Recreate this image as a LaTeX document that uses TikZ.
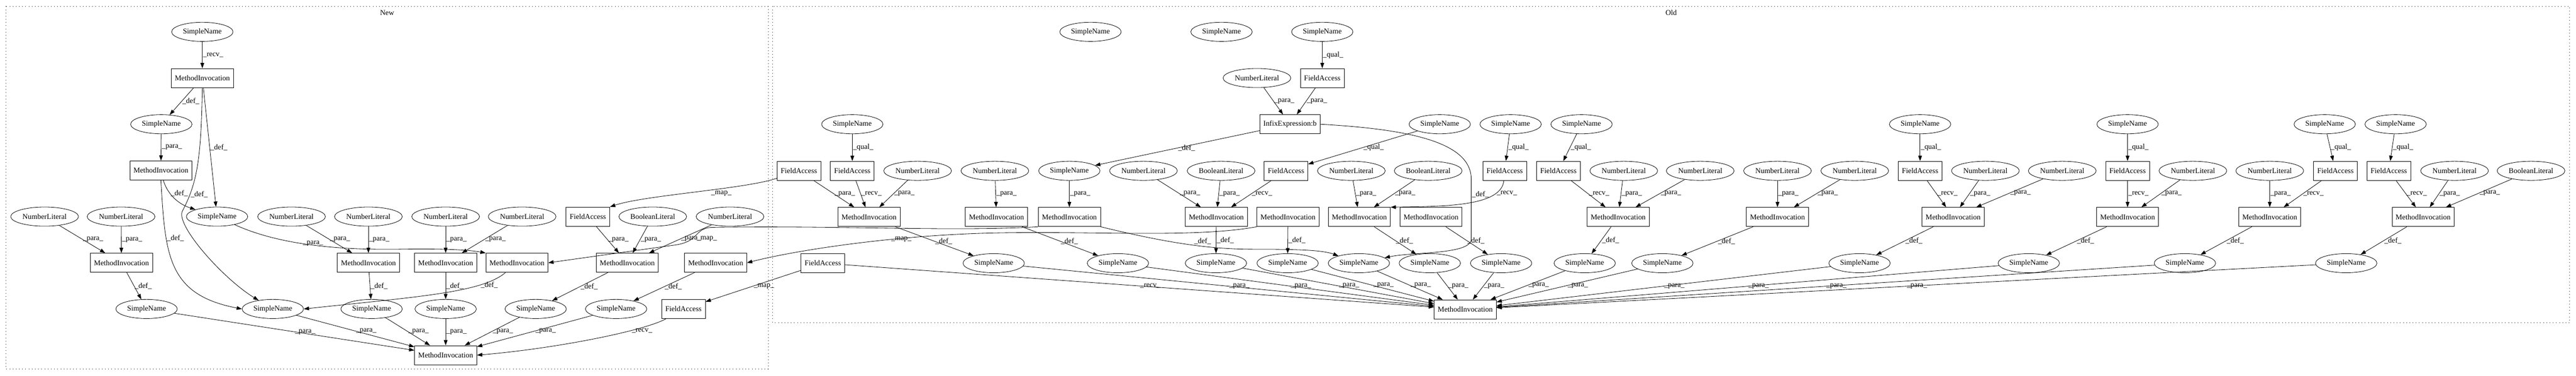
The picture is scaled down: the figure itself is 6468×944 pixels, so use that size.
\documentclass[tikz,border=0pt]{standalone}
\usepackage{fontspec}
\setmainfont{Liberation Serif}
\usetikzlibrary{arrows.meta,shapes.geometric,positioning}

\newcommand{\elab}[1]{\_#1\_}

\tikzset{
  mibox/.style={draw, rectangle, line width=0.8pt, minimum width=117pt, minimum height=36pt, inner sep=0pt},
  fabox/.style={mibox, minimum width=82.5pt},
  infbox/.style={mibox, minimum width=113pt},
  snode/.style={draw, ellipse, line width=0.8pt, minimum width=115.5pt, minimum height=36pt, inner sep=0pt},
  litnode/.style={snode, minimum width=127.5pt},
  edge/.style={-{Triangle[length=10pt,width=7pt]}, line width=0.8pt},
  lbl/.style={midway, right, inner sep=1pt},
  cluster/.style={line width=0.8pt, dash pattern=on 0.8pt off 5.2pt},
}

\begin{document}
\begin{tikzpicture}[x=0.75pt, y=-0.75pt, every node/.append style={font=\fontsize{14}{16}\selectfont}]
\useasboundingbox (0,0) rectangle (6468,944);

%%%%%
%% New
%%%%%
\draw[cluster] (15,16) rectangle (1929,927);
\node (newlab) at (972,32) {New};

\node[snode] (nsn0) at (508,80) {SimpleName};
\node[mibox] (nmi0) at (508,196) {MethodInvocation};
\node[snode] (nsn1) at (405,312) {SimpleName};
\node[mibox] (nmi1) at (404,428) {MethodInvocation};

\node[litnode] (nnl0) at (112,544) {NumberLiteral};
\node[litnode] (nnl1) at (304,544) {NumberLiteral};
\node[snode] (nsn2) at (545,544) {SimpleName};
\node[litnode] (nnl2) at (732,544) {NumberLiteral};
\node[litnode] (nnl3) at (925,544) {NumberLiteral};
\node[litnode] (nnl4) at (1119,544) {NumberLiteral};
\node[litnode] (nnl5) at (1311,544) {NumberLiteral};
\node[fabox] (nfa0) at (1476,544) {FieldAccess};
\node[litnode] (nbl0) at (1639,544) {BooleanLiteral};
\node[litnode] (nnl6) at (1833,544) {NumberLiteral};

\node[mibox] (nmi2) at (305,660) {MethodInvocation};
\node[mibox] (nmi3) at (925,660) {MethodInvocation};
\node[mibox] (nmi4) at (1119,660) {MethodInvocation};
\node[mibox] (nmi5) at (1298,660) {MethodInvocation};
\node[mibox] (nmi6) at (1575,660) {MethodInvocation};
\node[mibox] (nmi7) at (1797,660) {MethodInvocation};

\node[snode] (nsn3) at (368,776) {SimpleName};
\node[snode] (nsn4) at (685,776) {SimpleName};
\node[snode] (nsn5) at (933,776) {SimpleName};
\node[snode] (nsn6) at (1119,776) {SimpleName};
\node[snode] (nsn7) at (1345,776) {SimpleName};
\node[snode] (nsn8) at (1547,776) {SimpleName};
\node[fabox] (nfa1) at (1716,776) {FieldAccess};

\node[mibox] (nmi8) at (1119,892) {MethodInvocation};

\draw[edge] (nsn0) -- (nmi0) node[lbl] {\elab{recv}};
\draw[edge] (nmi0) -- (nsn1) node[lbl] {\elab{def}};
\draw[edge] (nmi0) -- (nsn2) node[lbl] {\elab{def}};
\draw[edge] (nmi0.south) .. controls (505,400) and (495,460) .. node[lbl, pos=0.8] {\elab{def}} (458,530) .. controls (440,565) and (560,700) .. (nsn4);
\draw[edge] (nsn1) -- (nmi1) node[lbl] {\elab{para}};
\draw[edge] ([xshift=4.5pt]nmi1.south) .. controls (418,480) and (440,510) .. node[lbl, pos=0.4] {\elab{def}} (nsn2);
\draw[edge] (nmi1.south) .. controls (415,640) and (420,740) .. node[lbl, pos=0.3] {\elab{def}} (nsn4.west);

\draw[edge] (nnl0) -- (nmi2) node[lbl] {\elab{para}};
\draw[edge] (nnl1) -- (nmi2) node[lbl] {\elab{para}};
\draw[edge] (nmi2) -- (nsn3) node[lbl] {\elab{def}};
\draw[edge] (nsn2) .. controls (700,615) and (850,628) .. node[lbl, pos=0.45] {\elab{para}} (1000,626) .. controls (1120,624) and (1180,628) .. (nmi5.north west);
\draw[edge] (nnl2) -- (nmi3) node[lbl] {\elab{para}};
\draw[edge] (nnl3) -- (nmi3) node[lbl] {\elab{para}};
\draw[edge] (nmi3) -- (nsn5) node[lbl] {\elab{def}};
\draw[edge] (nnl4) -- (nmi4) node[lbl] {\elab{para}};
\draw[edge] (nnl5) -- (nmi4) node[lbl] {\elab{para}};
\draw[edge] (nmi4) -- (nsn6) node[lbl] {\elab{def}};
\draw[edge] (nmi5) .. controls (1210,735) and (1050,745) .. node[lbl, pos=0.25] {\elab{def}} (nsn4.east);
\draw[edge] (nfa0) -- (nmi6) node[lbl] {\elab{para}};
\draw[edge] (nbl0) -- (nmi6) node[lbl] {\elab{para}};
\draw[edge] (nnl6) -- (nmi6) node[lbl] {\elab{para}};
\draw[edge] (nmi6) -- (nsn7) node[lbl] {\elab{def}};
\draw[edge] (nmi7) -- (nsn8) node[lbl] {\elab{def}};

\draw[edge] (nsn3) -- (nmi8) node[lbl] {\elab{para}};
\draw[edge] (nsn4) -- (nmi8) node[lbl] {\elab{para}};
\draw[edge] (nsn5) -- (nmi8) node[lbl] {\elab{para}};
\draw[edge] (nsn6) -- (nmi8) node[lbl] {\elab{para}};
\draw[edge] (nsn7) -- (nmi8) node[lbl] {\elab{para}};
\draw[edge] (nsn8) -- (nmi8) node[lbl] {\elab{para}};
\draw[edge] (nfa1) .. controls (1620,830) and (1400,875) .. node[lbl, pos=0.3] {\elab{recv}} (nmi8.east);

%%%%%
%% Old
%%%%%
\draw[cluster] (1940,16) rectangle (6452,810);
\node (oldlab) at (4196,32) {Old};

\node[snode] (osn0) at (2738,80) {SimpleName};
\node[snode] (osn1) at (3067,80) {SimpleName};
\node[snode] (osn2) at (3320,80) {SimpleName};

\node[litnode] (onl0) at (3156,196) {NumberLiteral};
\node[fabox] (ofa0) at (3320,196) {FieldAccess};

\node[snode] (osn3) at (2140,312) {SimpleName};
\node[infbox] (oinf) at (3239,312) {InfixExpression:b};
\node[snode] (osn4) at (3615,312) {SimpleName};
\node[snode] (osn5) at (3793,312) {SimpleName};
\node[snode] (osn6) at (3971,312) {SimpleName};
\node[snode] (osn7) at (4821,312) {SimpleName};
\node[snode] (osn8) at (5342,312) {SimpleName};
\node[snode] (osn9) at (5837,312) {SimpleName};
\node[snode] (osn10) at (6015,312) {SimpleName};

\node[fabox] (ofa1) at (2006,429) {FieldAccess};
\node[fabox] (ofa2) at (2140,429) {FieldAccess};
\node[litnode] (onl1) at (2304,429) {NumberLiteral};
\node[litnode] (onl2) at (2498,429) {NumberLiteral};
\node[snode] (osn11) at (2685,429) {SimpleName};
\node[litnode] (onl3) at (2871,429) {NumberLiteral};
\node[litnode] (obl0) at (3066,429) {BooleanLiteral};
\node[fabox] (ofa3) at (3229,429) {FieldAccess};
\node[litnode] (onl4) at (3393,429) {NumberLiteral};
\node[litnode] (obl1) at (3586,429) {BooleanLiteral};
\node[fabox] (ofa4) at (3778,429) {FieldAccess};
\node[fabox] (ofa5) at (3913,429) {FieldAccess};
\node[litnode] (onl5) at (4077,429) {NumberLiteral};
\node[litnode] (onl6) at (4269,429) {NumberLiteral};
\node[litnode] (onl7) at (4463,429) {NumberLiteral};
\node[litnode] (onl8) at (4657,429) {NumberLiteral};
\node[fabox] (ofa6) at (4821,429) {FieldAccess};
\node[litnode] (onl9) at (4985,429) {NumberLiteral};
\node[litnode] (onl10) at (5178,429) {NumberLiteral};
\node[fabox] (ofa7) at (5342,429) {FieldAccess};
\node[litnode] (onl11) at (5506,429) {NumberLiteral};
\node[litnode] (onl12) at (5699,429) {NumberLiteral};
\node[fabox] (ofa8) at (5864,429) {FieldAccess};
\node[fabox] (ofa9) at (5998,429) {FieldAccess};
\node[litnode] (onl13) at (6163,429) {NumberLiteral};
\node[litnode] (obl2) at (6355,429) {BooleanLiteral};

\node[mibox] (omi0) at (2182,545) {MethodInvocation};
\node[mibox] (omi1) at (2502,545) {MethodInvocation};
\node[mibox] (omi2) at (2685,545) {MethodInvocation};
\node[mibox] (omi3) at (3054,545) {MethodInvocation};
\node[mibox] (omi4) at (3234,545) {MethodInvocation};
\node[mibox] (omi5) at (3413,545) {MethodInvocation};
\node[mibox] (omi6) at (3593,545) {MethodInvocation};
\node[mibox] (omi7) at (4063,545) {MethodInvocation};
\node[mibox] (omi8) at (4463,545) {MethodInvocation};
\node[mibox] (omi9) at (4904,545) {MethodInvocation};
\node[mibox] (omi10) at (5342,545) {MethodInvocation};
\node[mibox] (omi11) at (5699,545) {MethodInvocation};
\node[mibox] (omi12) at (6084,545) {MethodInvocation};

\node[fabox] (ofa10) at (2066,661) {FieldAccess};
\node[snode] (osn12) at (2495,661) {SimpleName};
\node[snode] (osn13) at (2807,661) {SimpleName};
\node[snode] (osn14) at (3053,661) {SimpleName};
\node[snode] (osn15) at (3233,661) {SimpleName};
\node[snode] (osn16) at (3412,661) {SimpleName};
\node[snode] (osn17) at (3590,661) {SimpleName};
\node[snode] (osn18) at (3769,661) {SimpleName};
\node[snode] (osn19) at (3979,661) {SimpleName};
\node[snode] (osn20) at (4174,661) {SimpleName};
\node[snode] (osn21) at (4669,661) {SimpleName};
\node[snode] (osn22) at (5094,661) {SimpleName};
\node[snode] (osn23) at (5486,661) {SimpleName};
\node[snode] (osn24) at (5891,661) {SimpleName};

\node[mibox] (omi13) at (3679,777) {MethodInvocation};

\draw[edge] (osn2) -- (ofa0) node[lbl] {\elab{qual}};
\draw[edge] (onl0) -- (oinf) node[lbl] {\elab{para}};
\draw[edge] (ofa0) -- (oinf) node[lbl] {\elab{para}};
\draw[edge] (oinf) -- (osn11) node[lbl] {\elab{def}};
\draw[edge] (oinf.east) .. controls (3550,325) and (3694,360) .. (3694,450) -- node[lbl, pos=0.25] {\elab{def}} (3694,600) .. controls (3694,640) and (3550,632) .. (osn16);

\draw[edge] (osn3) -- (ofa2) node[lbl] {\elab{qual}};
\draw[edge] (ofa1) -- (omi0) node[lbl] {\elab{para}};
\draw[edge] (ofa2) -- (omi0) node[lbl] {\elab{recv}};
\draw[edge] (onl1) -- (omi0) node[lbl] {\elab{para}};
\draw[edge] (omi0) -- (osn12) node[lbl] {\elab{def}};
\draw[edge] (onl2) -- (omi1) node[lbl] {\elab{para}};
\draw[edge] (omi1) -- (osn13) node[lbl] {\elab{def}};
\draw[edge] (osn11) -- (omi2) node[lbl] {\elab{para}};
\draw[edge] (omi2.south east) .. controls (2950,615) and (3050,626) .. node[lbl, pos=0.52, above right] {\elab{def}} (3150,626) .. controls (3260,626) and (3320,628) .. (osn16);

\draw[edge] (osn4) -- (ofa3) node[lbl] {\elab{qual}};
\draw[edge] (onl3) -- (omi3) node[lbl] {\elab{para}};
\draw[edge] (obl0) -- (omi3) node[lbl] {\elab{para}};
\draw[edge] (ofa3) -- (omi3) node[lbl] {\elab{recv}};
\draw[edge] (omi3) -- (osn14) node[lbl] {\elab{def}};
\draw[edge] (omi4) -- (osn15) node[lbl] {\elab{def}};

\draw[edge] (osn5) -- (ofa4) node[lbl] {\elab{qual}};
\draw[edge] (onl4) -- (omi5) node[lbl] {\elab{para}};
\draw[edge] (obl1) -- (omi5) node[lbl] {\elab{para}};
\draw[edge] (ofa4) .. controls (3770,520) and (3620,518) .. node[lbl, pos=0.2] {\elab{recv}} (omi5.north east);
\draw[edge] (omi5) -- (osn17) node[lbl] {\elab{def}};
\draw[edge] (omi6) -- (osn18) node[lbl] {\elab{def}};

\draw[edge] (osn6) -- (ofa5) node[lbl] {\elab{qual}};
\draw[edge] (ofa5) -- (omi7) node[lbl] {\elab{recv}};
\draw[edge] (onl5) -- (omi7) node[lbl] {\elab{para}};
\draw[edge] (onl6) -- (omi7) node[lbl] {\elab{para}};
\draw[edge] (omi7) -- (osn19) node[lbl] {\elab{def}};
\draw[edge] (onl7) -- (omi8) node[lbl] {\elab{para}};
\draw[edge] (onl8) -- (omi8) node[lbl] {\elab{para}};
\draw[edge] (omi8) -- (osn20) node[lbl] {\elab{def}};

\draw[edge] (osn7) -- (ofa6) node[lbl] {\elab{qual}};
\draw[edge] (ofa6) -- (omi9) node[lbl] {\elab{recv}};
\draw[edge] (onl9) -- (omi9) node[lbl] {\elab{para}};
\draw[edge] (onl10) -- (omi9) node[lbl] {\elab{para}};
\draw[edge] (omi9) -- (osn21) node[lbl] {\elab{def}};

\draw[edge] (osn8) -- (ofa7) node[lbl] {\elab{qual}};
\draw[edge] (ofa7) -- (omi10) node[lbl] {\elab{recv}};
\draw[edge] (onl11) -- (omi10) node[lbl] {\elab{para}};
\draw[edge] (omi10) -- (osn22) node[lbl] {\elab{def}};

\draw[edge] (osn9) -- (ofa8) node[lbl] {\elab{qual}};
\draw[edge] (onl12) -- (omi11) node[lbl] {\elab{para}};
\draw[edge] (ofa8) -- (omi11) node[lbl] {\elab{recv}};
\draw[edge] (omi11) -- (osn23) node[lbl] {\elab{def}};

\draw[edge] (osn10) -- (ofa9) node[lbl] {\elab{qual}};
\draw[edge] (ofa9) -- (omi12) node[lbl] {\elab{recv}};
\draw[edge] (onl13) -- (omi12) node[lbl] {\elab{para}};
\draw[edge] (obl2) -- (omi12) node[lbl] {\elab{para}};
\draw[edge] (omi12) -- (osn24) node[lbl] {\elab{def}};

\draw[edge] (ofa10) -- (omi13) node[lbl] {\elab{recv}};
\draw[edge] (osn12) -- (omi13) node[lbl] {\elab{para}};
\draw[edge] (osn13) -- (omi13) node[lbl] {\elab{para}};
\draw[edge] (osn14) -- (omi13) node[lbl] {\elab{para}};
\draw[edge] (osn15) -- (omi13) node[lbl] {\elab{para}};
\draw[edge] (osn16) -- (omi13) node[lbl] {\elab{para}};
\draw[edge] (osn17) -- (omi13) node[lbl] {\elab{para}};
\draw[edge] (osn18) -- (omi13) node[lbl] {\elab{para}};
\draw[edge] (osn19) -- (omi13) node[lbl] {\elab{para}};
\draw[edge] (osn20) -- (omi13) node[lbl] {\elab{para}};
\draw[edge] (osn21) -- (omi13) node[lbl] {\elab{para}};
\draw[edge] (osn22) -- (omi13) node[lbl] {\elab{para}};
\draw[edge] (osn23) -- (omi13) node[lbl] {\elab{para}};
\draw[edge] (osn24) -- (omi13) node[lbl] {\elab{para}};

%%%%%
%% Old to New
%%%%%
\draw[edge] (ofa1) .. controls (1870,475) and (1620,490) .. node[lbl, pos=0.42, below right] {\elab{map}} (nfa0.north east);
\draw[edge] (omi2.south west) .. controls (2400,582) and (2100,566) .. (1790,571) .. controls (1740,572) and (1760,608) .. node[lbl, pos=0.5, below right] {\elab{map}} (1690,616) -- (nmi5.east);
\draw[edge] (omi4.south west) .. controls (3000,598) and (2750,580) .. (2500,585) .. controls (2250,590) and (2000,628) .. node[lbl, pos=0.36] {\elab{map}} (nmi7.east);
\draw[edge] (ofa10) -- (nfa1) node[lbl] {\elab{map}};

\end{tikzpicture}
\end{document}
